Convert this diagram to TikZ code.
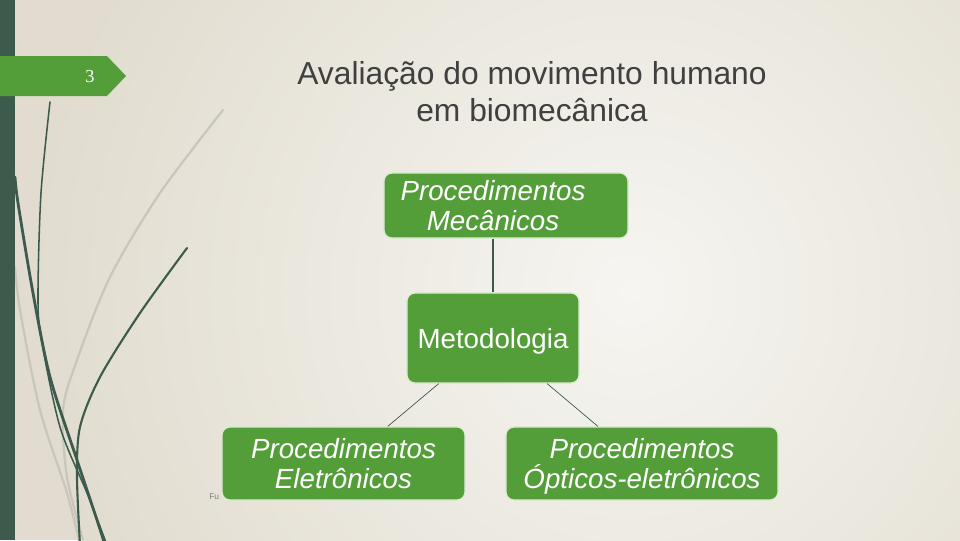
\documentclass[tikz,border=0pt]{standalone}
\usepackage{fontspec}
\setmainfont{Liberation Sans}
\newfontfamily\numfont{Liberation Serif}
\usepackage{tikz}
\usetikzlibrary{positioning,calc}
\definecolor{cbBack}{HTML}{E1DCCF}
\definecolor{cbLight}{HTML}{F6F5F1}
\definecolor{cbStrip}{HTML}{3D5B4D}
\definecolor{cbGreen}{HTML}{549E39}
\definecolor{cbTitle}{HTML}{404040}
\definecolor{cbStem}{HTML}{C9C6BC}

\begin{document}
\begin{tikzpicture}[x=0.025cm,y=-0.025cm,
  b/.style={draw=white!80!cbGreen,fill=cbGreen,rounded corners=0.2cm,line width=0.9pt,
            text=white,align=center,inner sep=0pt,text depth=0pt,
            font=\fontsize{19.7}{21.3}\selectfont},
  l/.style={draw=cbStrip,line width=0.9pt},
  stem/.style={line cap=round,smooth}]
\useasboundingbox (0,0) rectangle (960,540);
% background
\fill[cbBack] (0,0) rectangle (960,540);
\begin{scope}
\clip (0,0) rectangle (960,540);
\shade[inner color=cbLight,outer color=cbBack] (630,290) circle (600);
% grass stems
\draw[stem,cbStem,line width=1.6pt] plot coordinates {(223,110) (160,193) (110,277) (77,360) (63,410) (67,477) (83,540)};
\draw[stem,cbStem,line width=1.6pt] plot coordinates {(15,267) (20,310) (40,410) (67,493) (80,545)};
\draw[stem,cbStrip,line width=1.1pt] plot coordinates {(50,102) (41,193) (38,293) (41,337) (60,427) (87,493) (107,545)};
\draw[stem,cbStrip,line width=2pt] plot coordinates {(15,177) (18,203) (33,293) (50,377) (77,460) (97,520) (105,545)};
\draw[stem,cbStrip,line width=1.5pt] plot coordinates {(187,248) (140,313) (100,377) (80,427) (77,477) (80,545)};
\end{scope}
\fill[cbStrip] (0,0) rectangle (15,540);
% slide number
\fill[cbGreen] (0,56) -- (107,56) -- (126,76) -- (107,96) -- (0,96) -- cycle;
\node[text=white,font=\numfont\fontsize{13}{13}\selectfont] (num) at (90,77) {3};
% title
\node[text=cbTitle,align=center,font=\fontsize{22.6}{26.2}\selectfont] (title) at (532,92)
  {Avaliação do movimento humano\\ em biomecânica};
% footer
\node[anchor=west,text=gray,font=\fontsize{6}{6}\selectfont,inner sep=0pt] (foot) at (209,497) {Fu};
% boxes
\node[b,minimum width=6.1cm,minimum height=1.625cm] (mec) at (506,205.5)
  {\itshape Procedimentos\hspace*{0.65cm}\\ \itshape Mecânicos\hspace*{0.65cm}};
\node[b,minimum width=4.3cm,minimum height=2.25cm] (meto) at (493,338) {Metodologia};
\node[b,minimum width=6.075cm,minimum height=1.825cm] (elet) at (343.5,463.5)
  {\itshape Procedimentos\\ \itshape Eletrônicos};
\node[b,minimum width=6.8cm,minimum height=1.825cm] (opt) at (642,463.5)
  {\itshape Procedimentos\\ \itshape \smash{Ó}pticos-eletrônicos};
% links
\draw[l] (meto.north) -- (meto.north |- mec.south);
\draw[cbStrip,line width=0.5pt] (meto) -- (elet);
\draw[cbStrip,line width=0.5pt] (meto) -- (opt);
\end{tikzpicture}
\end{document}
